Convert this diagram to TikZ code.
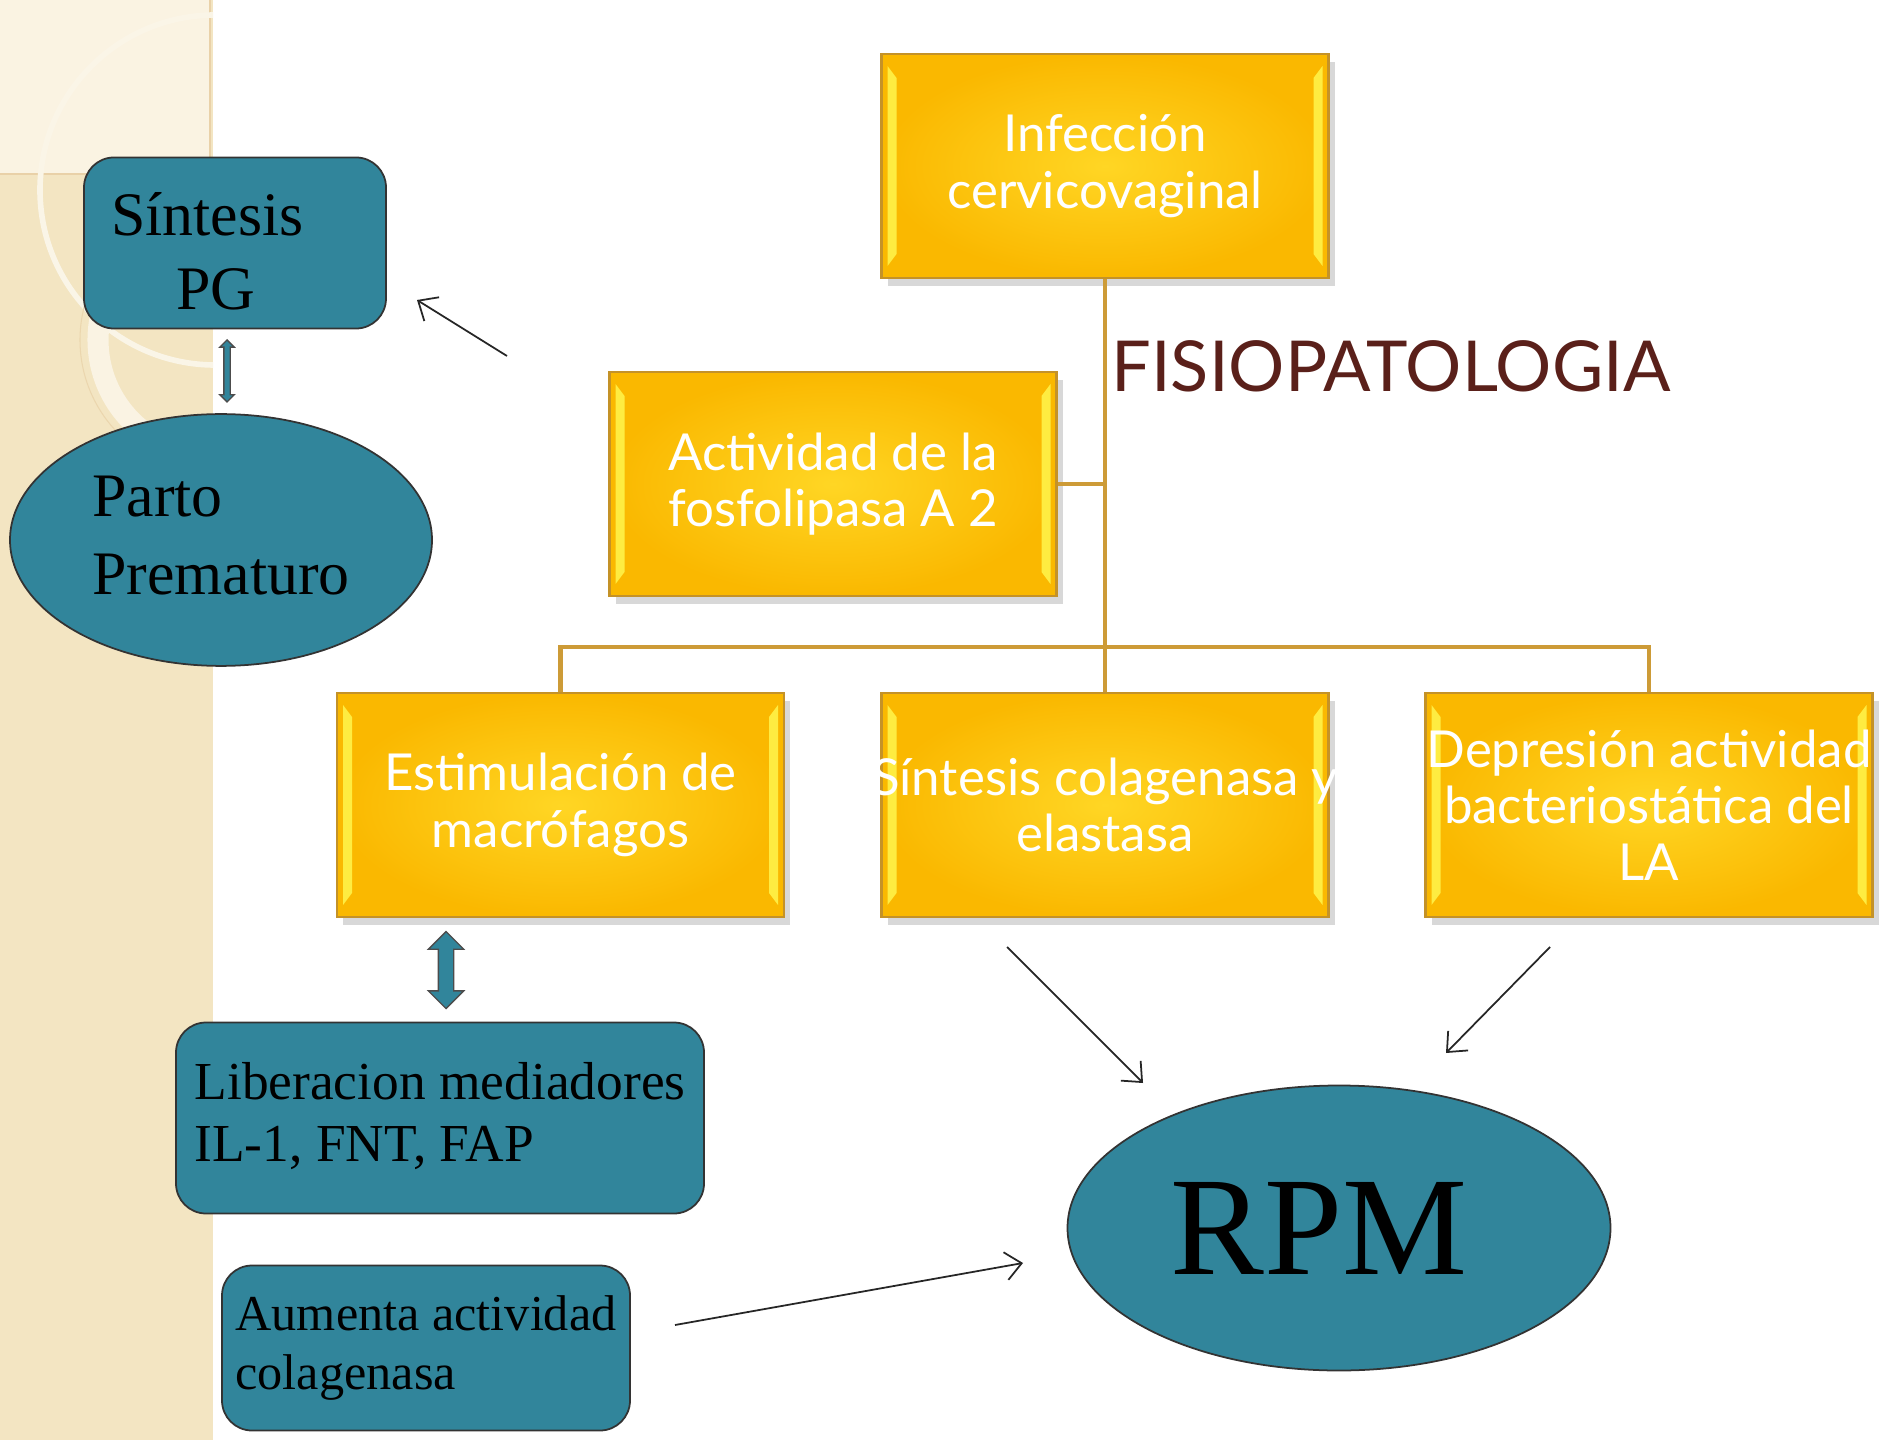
\documentclass[tikz,border=0pt]{standalone}
\usepackage{fontspec}
\setmainfont{Liberation Serif}
\newfontfamily\gill{Lato}
\usetikzlibrary{positioning,arrows.meta,shapes.geometric,shapes.arrows,shadows}
\definecolor{slideteal}{RGB}{49,133,155}
\definecolor{slidegold}{RGB}{250,184,0}
\definecolor{slidelight}{RGB}{255,214,36}
\definecolor{slideedge}{RGB}{196,146,40}
\definecolor{linkgold}{RGB}{205,155,55}
\definecolor{titlebrown}{RGB}{90,32,26}
\definecolor{stripbeige}{RGB}{243,229,194}
\definecolor{stripcream}{RGB}{250,243,226}
\newcommand\lines[1]{\begin{tabular}{@{}l@{}}#1\end{tabular}}
\tikzset{
  bevel/.style={fill=yellow!70!white, opacity=0.85},
  ybox/.style={rectangle, draw=slideedge, line width=0.7pt, inner color=slidelight, outer color=slidegold,
               minimum width=4.47cm, minimum height=2.24cm, inner xsep=0pt, align=center, text=white,
               font=\gill\fontsize{14.5}{16}\selectfont,
               drop shadow={opacity=0.3, shadow xshift=0.6mm, shadow yshift=-0.8mm},
               path picture={
                 \fill[bevel] ([xshift=0.6mm,yshift=-1.2mm]path picture bounding box.north west)
                   -- ([xshift=1.5mm,yshift=-2.4mm]path picture bounding box.north west)
                   -- ([xshift=1.5mm,yshift=2.4mm]path picture bounding box.south west)
                   -- ([xshift=0.6mm,yshift=1.2mm]path picture bounding box.south west) -- cycle;
                 \fill[bevel] ([xshift=-0.6mm,yshift=-1.2mm]path picture bounding box.north east)
                   -- ([xshift=-1.5mm,yshift=-2.4mm]path picture bounding box.north east)
                   -- ([xshift=-1.5mm,yshift=2.4mm]path picture bounding box.south east)
                   -- ([xshift=-0.6mm,yshift=1.2mm]path picture bounding box.south east) -- cycle;
               }},
  link/.style={draw=linkgold, line width=1.3pt},
  heading/.style={font=\gill\fontsize{20}{24}\selectfont, text=titlebrown},
  tbox/.style={rectangle, rounded corners=3mm, draw=black!80, line width=0.5pt, fill=slideteal, text=black},
  tell/.style={ellipse, draw=black!80, line width=0.5pt, fill=slideteal, text=black},
  ptr/.style={-{Straight Barb[length=1.6mm,width=2.8mm]}, line width=0.5pt, black!85},
  darr/.style={double arrow, rotate=90, fill=slideteal, draw=black!70, line width=0.4pt,
               inner sep=0pt, text width=0pt, double arrow head indent=0pt}
}
\begin{document}
\begin{tikzpicture}
  \useasboundingbox (0,0) rectangle (18.8,14.4);
  % slide background
  \fill[white] (0,0) rectangle (18.8,14.4);
  \fill[stripbeige] (0,0) rectangle (2.13,14.4);
  \fill[stripcream] (0,12.66) rectangle (2.10,14.4);
  \draw[stripbeige!80!brown, line width=0.3pt] (0,12.66) -- (2.10,12.66) -- (2.10,14.4);
  \begin{scope}
    \clip (0,0) rectangle (2.13,14.4);
    \draw[white!60!stripbeige, line width=1.6pt] (2.15,12.5) circle (1.75);
    \draw[white!55!stripbeige, line width=6pt] (2.13,11.0) circle (1.15);
    \draw[stripbeige!85!brown, line width=0.3pt] (2.13,11.0) circle (1.33);
  \end{scope}

  % yellow tree
  \node[ybox] (inf) at (11.05,12.74) {Infección\\cervicovaginal};
  \node[ybox] (act) at (8.33,9.56) {Actividad de la\\fosfolipasa A 2};
  \foreach \n/\x/\t in {est/5.605/{Estimulación de\\macrófagos},
                        sin/11.05/{\makebox[4.3cm]{Síntesis colagenasa y}\\elastasa},
                        dep/16.49/{Depresión actividad\\bacteriostática del\\LA}}
    \node[ybox] (\n) at (\x,6.35) {\t};
  \coordinate (hub) at (11.05,7.93);
  \draw[link] (inf) -- (hub);
  \draw[link] (act.east) -- (act.east -| hub);
  \draw[link] (est.north) |- (hub) -| (dep.north);
  \draw[link] (hub) -- (sin);
  \node[heading] (fisio) at (13.91,10.74) {FISIOPATOLOGIA};

  % teal shapes
  \node[tbox, minimum width=3.02cm, minimum height=1.67cm, font=\fontsize{17.6}{21}\selectfont]
        (pg) at (2.35,11.97) {\raisebox{-0.15cm}[\height][\depth]{\lines{Síntesis\hspace*{0.55cm}\\\hspace*{0.65cm}PG}}};
  \node[tell, minimum width=4.22cm, minimum height=2.40cm, font=\fontsize{17.6}{22}\selectfont]
        (parto) at (2.21,9.00) {\lines{Parto\\Prematuro}};
  \node[tbox, minimum width=5.28cm, minimum height=1.91cm, font=\fontsize{15.2}{17.7}\selectfont]
        (lib) at (4.40,3.22) {\lines{Liberacion mediadores\\IL-1, FNT, FAP}};
  \node[tbox, minimum width=4.08cm, minimum height=1.65cm, font=\fontsize{14.3}{17}\selectfont]
        (aum) at (4.26,0.92) {\lines{Aumenta actividad\\colagenasa}};
  \node[tell, minimum width=5.43cm, minimum height=2.85cm, font=\fontsize{40}{44}\selectfont]
        (rpm) at (13.39,2.12) {RPM\hspace*{0.4cm}};

  % double arrows
  \node[darr, minimum height=0.62cm, text height=0.05cm, double arrow head extend=0.04cm] (pgarr) at (2.27,10.69) {};
  \node[darr, minimum height=0.77cm, text height=0.14cm, double arrow head extend=0.1cm] (estarr) at (4.46,4.70) {};

  % thin arrows
  \coordinate (pgtail) at (5.07,10.84);  \coordinate (pgtip) at (4.17,11.40);
  \coordinate (sintail) at (10.07,4.93); \coordinate (sintip) at (11.43,3.57);
  \coordinate (deptail) at (15.50,4.93); \coordinate (deptip) at (14.46,3.87);
  \coordinate (aumtail) at (6.75,1.15);  \coordinate (aumtip) at (10.23,1.77);
  \draw[ptr] (pgtail) -- (pgtip);
  \draw[ptr] (sintail) -- (sintip);
  \draw[ptr] (deptail) -- (deptip);
  \draw[ptr] (aumtail) -- (aumtip);
\end{tikzpicture}
\end{document}
